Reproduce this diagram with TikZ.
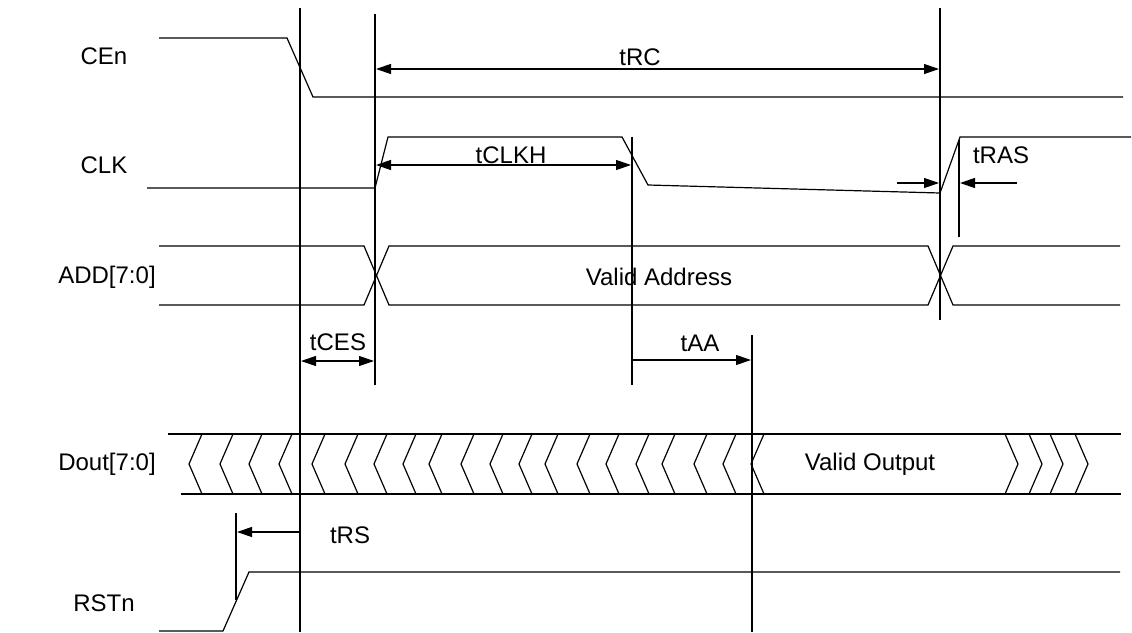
\documentclass[tikz,border=0pt]{standalone}
\usepackage{fontspec}
\setmainfont{Liberation Sans}
\usetikzlibrary{arrows.meta}
\begin{document}
\begin{tikzpicture}[x=1pt,y=-1pt,
  sig/.style={line width=1.2pt, line join=miter},
  guide/.style={line width=1.2pt},
  dim/.style={line width=1.2pt},
  tip/.style={-{Triangle[length=15pt,width=10pt]}},
  tips/.style={{Triangle[length=15pt,width=10pt]}-{Triangle[length=15pt,width=10pt]}},
  lbl/.style={inner sep=0pt, font=\fontsize{24}{28}\selectfont},
  ]
\useasboundingbox (0,0) rectangle (1132,632);
% signal labels
\node[lbl] (lcen) at (104,56) {CEn};
\node[lbl] (lclk) at (104,165) {CLK};
\node[lbl] (ladd) at (107,277) {ADD[7:0]};
\node[lbl] (ldout) at (107,464) {Dout[7:0]};
\node[lbl] (lrst) at (104,603) {RSTn};
% guide coordinates
\coordinate (v1t) at (300,8);   \coordinate (v1b) at (300,632);
\coordinate (v2t) at (375,14);  \coordinate (v2b) at (375,385);
\coordinate (v3t) at (632,137); \coordinate (v3b) at (632,385);
\coordinate (v4t) at (940,8);   \coordinate (v4b) at (940,320);
\coordinate (v5t) at (959,140); \coordinate (v5b) at (959,237);
\coordinate (v6t) at (752,335); \coordinate (v6b) at (752,632);
\coordinate (v7t) at (236,513); \coordinate (v7b) at (236,600);
\foreach \a/\b in {v1t/v1b,v2t/v2b,v3t/v3b,v4t/v4b,v5t/v5b,v6t/v6b,v7t/v7b}
  \draw[guide] (\a) -- (\b);
% CEn
\draw[sig] (159,38) -- (287,38) -- (313,97) -- (1123,97);
% CLK
\draw[sig] (147,188) -- (375,188) -- (388,137) -- (622,137) -- (648,185) -- (940,193) -- (960,137) -- (1131,137);
% ADD
\draw[sig] (159,246) -- (364,246) -- (389,305) -- (928,305) -- (953,246) -- (1120,246);
\draw[sig] (159,305) -- (364,305) -- (389,246) -- (928,246) -- (953,305) -- (1120,305);
\node[lbl] (vaddr) at (659,277) {Valid Address};
% Dout
\draw[sig] (168,434) -- (1121,434);
\draw[sig] (181,494) -- (1121,494);
\foreach \x in {202,233,262,292,325,358,387,416,442,474,503,532,558,590,619,649,675,707,736,764}
  \draw[sig] (\x,434) -- (\x-13,464) -- (\x,494);
\foreach \x in {1005,1029,1050,1075}
  \draw[sig] (\x,434) -- (\x+13,464) -- (\x,494);
\node[lbl] (vout) at (870,464) {Valid Output};
% RSTn
\draw[sig] (159,631) -- (223,631) -- (249,572) -- (1120,572);
% dimension coordinates
\coordinate (rcl) at (376,69);  \coordinate (rcr) at (939,69);
\coordinate (ckl) at (376,165); \coordinate (ckr) at (631,165);
\coordinate (ra1) at (897,183); \coordinate (ra2) at (939,183);
\coordinate (rb1) at (1017,183); \coordinate (rb2) at (960,183);
\coordinate (cel) at (301,361); \coordinate (cer) at (374,361);
\coordinate (aal) at (633,360); \coordinate (aar) at (751,360);
\coordinate (rsa) at (300,532); \coordinate (rsb) at (237,532);
\draw[dim,tips] (rcl) -- (rcr);
\draw[dim,tips] (ckl) -- (ckr);
\draw[dim,tip] (ra1) -- (ra2);
\draw[dim,tip] (rb1) -- (rb2);
\draw[dim,tips] (cel) -- (cer);
\draw[dim,tip] (aal) -- (aar);
\draw[dim,tip] (rsa) -- (rsb);
\node[lbl] (trc) at (640,57) {tRC};
\node[lbl] (tclkh) at (511,155) {tCLKH};
\node[lbl] (tras) at (1001,155) {tRAS};
\node[lbl] (tces) at (338,342) {tCES};
\node[lbl] (taa) at (700,343) {tAA};
\node[lbl] (trs) at (350,535) {tRS};
\end{tikzpicture}
\end{document}
